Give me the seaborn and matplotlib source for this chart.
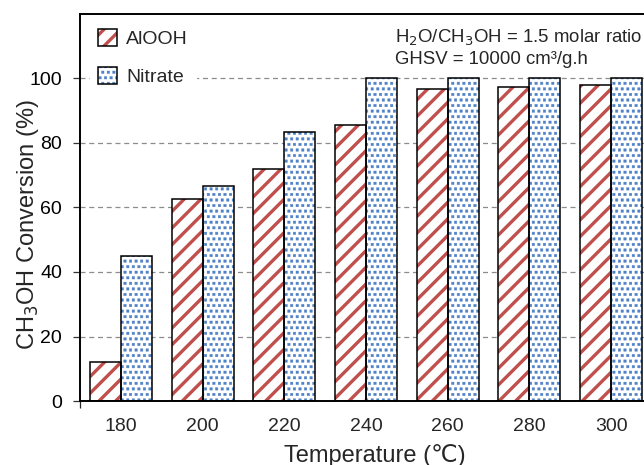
import matplotlib
matplotlib.use("Agg")
import matplotlib.pyplot as plt
import matplotlib.hatch as mhatch
import matplotlib.patches as mpatches
from matplotlib.path import Path
import seaborn as sns
import pandas as pd
from matplotlib.legend_handler import HandlerTuple

# values
temps = ['180', '200', '220', '240', '260', '280', '300']
alooh = [12.2, 62.5, 72.0, 85.7, 96.6, 97.3, 97.9]
nitrate = [44.9, 66.7, 83.3, 100, 100, 100, 100]
series = ['AlOOH', 'Nitrate']
colors = {'AlOOH': '#c0504d', 'Nitrate': '#4f81c7'}
hatches = {'AlOOH': '//', 'Nitrate': '...'}
hatch_lw = {'AlOOH': 2.4, 'Nitrate': 0.3}


# the '.' hatch gives tiny round dots; the original has small square dots
def _square_dots(self, hatch, density):
    self.num_rows = hatch.count('.') * density
    path = Path.unit_rectangle()
    self.shape_vertices = path.vertices - 0.5
    self.shape_codes = path.codes
    mhatch.Shapes.__init__(self, hatch, density)


mhatch.SmallFilledCircles.__init__ = _square_dots
mhatch.SmallFilledCircles.size = 0.44

df = pd.DataFrame({
    'Temperature': temps * 2,
    'Conversion': alooh + nitrate,
    'Catalyst': ['AlOOH'] * len(temps) + ['Nitrate'] * len(temps),
})

sns.set_style('white')
plt.rcParams['font.family'] = ['Liberation Sans', 'DejaVu Sans']

fig = plt.figure(figsize=(6.44, 4.65), dpi=100)
ax = fig.add_axes([80 / 644, 1 - 401 / 465, 572 / 644, 387 / 465])


def set_hatch_lw(p, lw):
    plt.rcParams['hatch.linewidth'] = lw
    if hasattr(p, 'set_hatch_linewidth'):
        p.set_hatch_linewidth(lw)


# hatched fill layer
sns.barplot(data=df, x='Temperature', y='Conversion', hue='Catalyst',
            hue_order=series, order=temps, width=0.76, ax=ax,
            palette=['white', 'white'], linewidth=0, legend=False,
            errorbar=None)
fill_patches = {}
for cont, name in zip(ax.containers, series):
    for p in cont.patches:
        p.set_edgecolor(colors[name])
        p.set_hatch(hatches[name])
        set_hatch_lw(p, hatch_lw[name])
    fill_patches[name] = cont.patches[0]

# outline layer
n_before = len(ax.containers)
sns.barplot(data=df, x='Temperature', y='Conversion', hue='Catalyst',
            hue_order=series, order=temps, width=0.76, ax=ax,
            fill=False, edgecolor='black', linewidth=1.1, legend=False,
            errorbar=None)
outline_patches = {}
for cont, name in zip(ax.containers[n_before:], series):
    for p in cont.patches:
        p.set_edgecolor('black')
    outline_patches[name] = cont.patches[0]

ax.set_xlim(-0.5, 6.5)
ax.set_ylim(0, 120)
ax.set_yticks([0, 20, 40, 60, 80, 100])
ax.set_axisbelow(True)
ax.yaxis.grid(True, color='#8c8c8c', linestyle=(0, (4, 3)), linewidth=0.9)
ax.xaxis.grid(False)

for s in ax.spines.values():
    s.set_color('black')
    s.set_linewidth(1.4)

ax.tick_params(axis='y', direction='out', length=5, width=0.9, colors='#333333',
               labelcolor='black', labelsize=14, pad=8, left=True)
ax.tick_params(axis='x', length=0, labelsize=14, pad=12)
ax.set_xticks([-0.5], minor=True)
ax.tick_params(axis='x', which='minor', length=5, width=0.9, bottom=True)

ax.set_xlabel('Temperature (℃)', fontsize=17)
ax.xaxis.set_label_coords(0.516, -0.11)
ax.set_ylabel('CH$_3$OH Conversion (%)', fontsize=17)
ax.yaxis.set_label_coords(-0.068, 0.456)

handles = [(fill_patches[n], outline_patches[n]) for n in series]
leg = ax.legend(handles, series, loc='upper left', bbox_to_anchor=(0.0175, 0.982),
                borderaxespad=0, handler_map={tuple: HandlerTuple(ndivide=1)},
                frameon=True, framealpha=1, edgecolor='white', fancybox=False,
                fontsize=14, labelspacing=0.96, handlelength=1.0,
                handleheight=1.0, handletextpad=0.45, borderpad=0.4)
# legend copies of the patches lose the per-patch hatch width
for p in leg.findobj(mpatches.Rectangle):
    for name in series:
        if p.get_hatch() == hatches[name]:
            set_hatch_lw(p, hatch_lw[name])

fig.text(395 / 644, 1 - 42.7 / 465, 'H$_2$O/CH$_3$OH = 1.5 molar ratio',
         fontsize=13.4, ha='left', va='baseline')
fig.text(395 / 644, 1 - 64.3 / 465, 'GHSV = 10000 cm³/g.h',
         fontsize=13.4, ha='left', va='baseline')

fig.savefig('out.png', dpi=100)
